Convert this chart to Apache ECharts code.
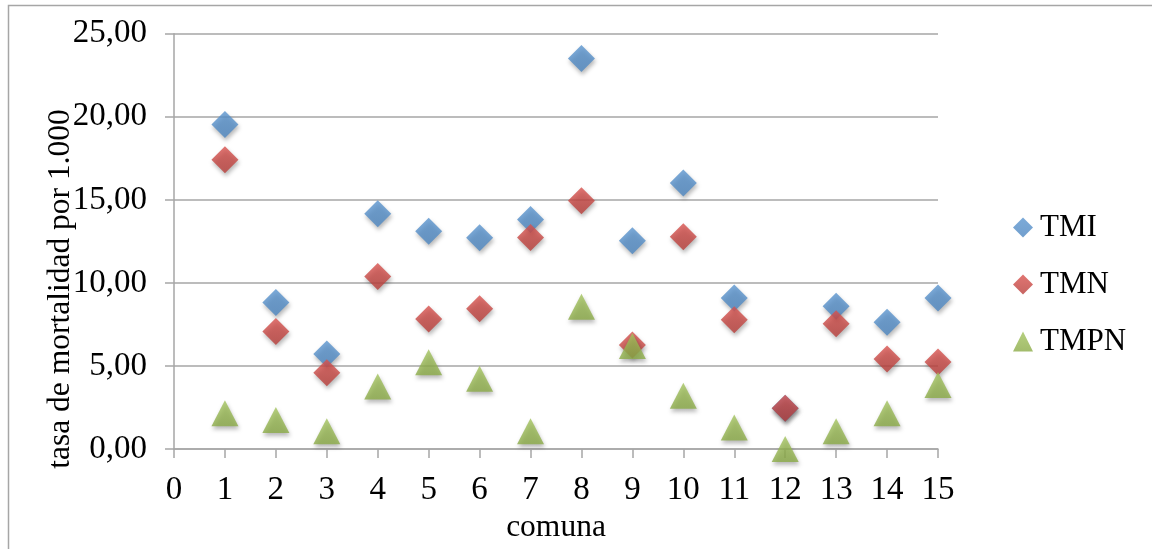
<!DOCTYPE html>
<html>
<head>
<meta charset="utf-8">
<style>
  html, body { margin: 0; padding: 0; background: #fff; }
  #chart { width: 1152px; height: 549px; }
</style>
<script src="https://cdn.jsdelivr.net/npm/echarts@6/dist/echarts.min.js"></script>
</head>
<body>
<div id="chart"></div>
<script>
// Tasas de mortalidad por comuna (por 1.000)
const comunas = [1, 2, 3, 4, 5, 6, 7, 8, 9, 10, 11, 12, 13, 14, 15];
const tmi  = [19.54, 8.82, 5.72, 14.16, 13.11, 12.72, 13.82, 23.50, 12.54, 16.01, 9.09, 2.46, 8.60, 7.63, 9.09];
const tmn  = [17.41, 7.08, 4.59, 10.39, 7.83, 8.44, 12.74, 14.95, 6.27, 12.78, 7.79, 2.46, 7.55, 5.42, 5.24];
const tmpn = [2.16, 1.75, 1.08, 3.76, 5.22, 4.23, 1.08, 8.56, 6.20, 3.21, 1.30, 0.00, 1.08, 2.16, 3.86];
const seriesNames = ['TMI', 'TMN', 'TMPN'];

const FONT = '"Liberation Serif", "Times New Roman", serif';
const GRID_GRAY = '#A6A6A6';

function grad(top, bottom) {
  return new echarts.graphic.LinearGradient(0, 0, 0, 1, [
    { offset: 0, color: top },
    { offset: 1, color: bottom }
  ]);
}

const markerShadow = {
  shadowColor: 'rgba(0,0,0,0.35)',
  shadowBlur: 4,
  shadowOffsetX: 1,
  shadowOffsetY: 3
};

function pairs(values) {
  return comunas.map((c, i) => [c, values[i]]);
}

const chart = echarts.init(document.getElementById('chart'), null, { renderer: 'canvas' });

chart.setOption({
  animation: false,
  backgroundColor: '#fff',
  textStyle: { fontFamily: FONT },
  graphic: [
    {
      type: 'rect',
      shape: { x: 8.5, y: 5.5, width: 1300, height: 700 },
      style: { fill: 'none', stroke: GRID_GRAY, lineWidth: 1.5 },
      silent: true
    },
    {
      type: 'text',
      x: 61,
      y: 289,
      rotation: Math.PI / 2,
      style: {
        text: 'tasa de mortalidad por 1.000',
        font: '31.5px ' + FONT,
        fill: '#000',
        align: 'center',
        verticalAlign: 'middle'
      },
      silent: true
    }
  ],
  grid: { left: 174, right: 214, top: 33.7, bottom: 94.7, containLabel: false },
  legend: {
    orient: 'vertical',
    left: 1008,
    top: 207,
    itemGap: 26,
    itemWidth: 20,
    itemHeight: 20,
    data: [
      { name: seriesNames[0], icon: 'diamond' },
      { name: seriesNames[1], icon: 'diamond' },
      { name: seriesNames[2], icon: 'triangle' }
    ],
    itemStyle: { shadowColor: 'transparent', shadowBlur: 0 },
    textStyle: { fontFamily: FONT, fontSize: 31, color: '#000', padding: [0, 0, 0, 2] }
  },
  xAxis: {
    type: 'value',
    min: 0,
    max: 15,
    interval: 1,
    name: 'comuna',
    nameLocation: 'middle',
    nameGap: 61,
    nameTextStyle: { fontFamily: FONT, fontSize: 31.5, color: '#000' },
    axisLine: { show: true, lineStyle: { color: GRID_GRAY, width: 1.5 } },
    axisTick: { show: true, length: 9, lineStyle: { color: GRID_GRAY, width: 1.5 } },
    axisLabel: { fontFamily: FONT, fontSize: 33, color: '#000', margin: 25 },
    splitLine: { show: false }
  },
  yAxis: {
    type: 'value',
    min: 0,
    max: 25,
    interval: 5,
    axisLine: { show: true, lineStyle: { color: GRID_GRAY, width: 1.5 } },
    axisTick: { show: true, length: 9, lineStyle: { color: GRID_GRAY, width: 1.5 } },
    axisLabel: {
      fontFamily: FONT, fontSize: 33, color: '#000', margin: 27,
      formatter: v => v.toFixed(2).replace('.', ',')
    },
    splitLine: { show: true, lineStyle: { color: GRID_GRAY, width: 1.5 } }
  },
  series: [
    {
      name: seriesNames[0],
      type: 'scatter',
      symbol: 'diamond',
      symbolSize: [27, 27],
      data: pairs(tmi),
      itemStyle: Object.assign({ color: grad('#5B95CF', '#4E87C1') }, markerShadow)
    },
    {
      name: seriesNames[1],
      type: 'scatter',
      symbol: 'diamond',
      symbolSize: [27, 27],
      data: pairs(tmn),
      itemStyle: Object.assign({ color: grad('#D9524E', '#B83E3A') }, markerShadow)
    },
    {
      name: seriesNames[2],
      type: 'scatter',
      symbol: 'triangle',
      symbolSize: [27, 26],
      data: pairs(tmpn),
      itemStyle: Object.assign({ color: grad('#A3C35E', '#8BAB47') }, markerShadow)
    }
  ]
});
</script>
</body>
</html>
